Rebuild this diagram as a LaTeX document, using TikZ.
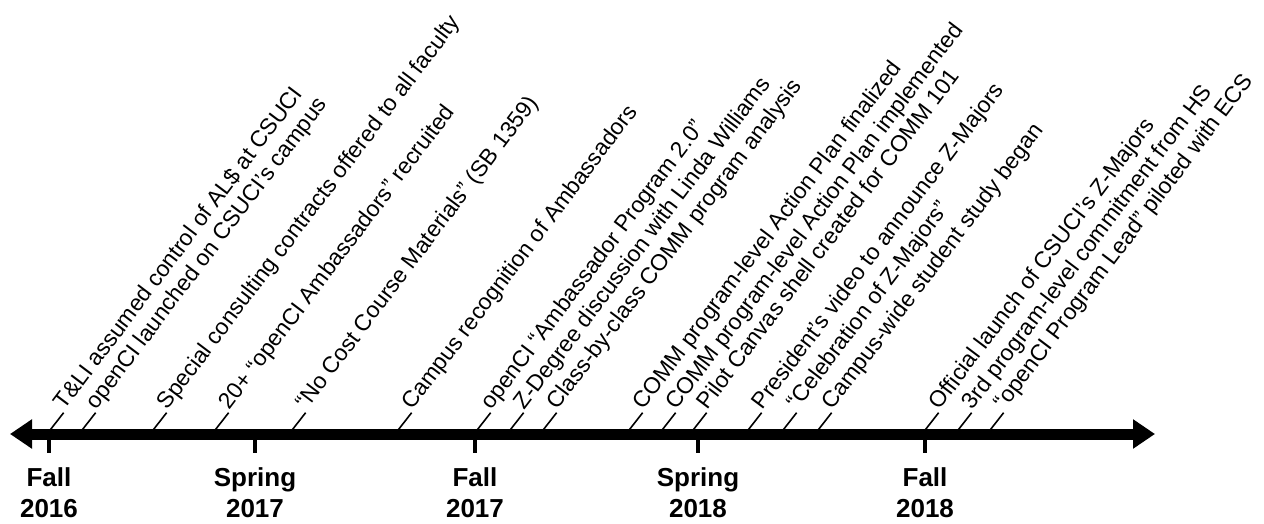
\documentclass[tikz,border=0pt]{standalone}
\usepackage{fontspec}
\setmainfont{Liberation Sans}
\usetikzlibrary{arrows.meta,calc}

\tikzset{
  evline/.style={line width=1.6pt},
  evtext/.style={anchor=base west, rotate=53, inner sep=2pt, font=\fontsize{22.8}{27}\selectfont},
  tickmark/.style={line width=4pt},
  ticklabel/.style={anchor=base, align=center, inner sep=0pt, font=\fontsize{26}{31}\selectfont\bfseries},
}

\begin{document}
\begin{tikzpicture}[x=1pt,y=1pt]
\useasboundingbox (0,0) rectangle (1264,523);

% time axis
\coordinate (L) at (10,89);
\coordinate (R) at (1155,89);
\draw[line width=11pt, {Triangle[length=22pt,width=28pt]}-{Triangle[length=22pt,width=28pt]}] (L) -- (R);

% semesters
\foreach \x/\sem/\yr [count=\i] in {49/Fall/2016, 255/Spring/2017, 475/Fall/2017, 698/Spring/2018, 925/Fall/2018} {
  \coordinate (t\i) at (\x,89);
  \coordinate (tb\i) at (\x,70);
  \draw[tickmark] (t\i) -- (tb\i);
  \node[ticklabel] (sem\i) at (\x,6) {\sem\\\yr};
}

% events
\foreach \x/\txt [count=\i] in {
  47/{T\&LI assumed control of AL\$ at CSUCI},
  79/{openCI launched on CSUCI’s campus},
  150/{Special consulting contracts offered to all faculty},
  212/{20+ “openCI Ambassadors” recruited},
  289/{“No Cost Course Materials” (SB 1359)},
  395/{Campus recognition of Ambassadors},
  474/{openCI “Ambassador Program 2.0”},
  507/{Z-Degree discussion with Linda Williams},
  540/{Class-by-class COMM program analysis},
  626/{COMM program-level Action Plan finalized},
  659/{COMM program-level Action Plan implemented},
  690/{Pilot Canvas shell created for COMM 101},
  745/{President’s video to announce Z-Majors},
  780/{“Celebration of Z-Majors”},
  815/{Campus-wide student study began},
  922/{Official launch of CSUCI’s Z-Majors},
  955/{3rd program-level commitment from HS},
  987/{“openCI Program Lead” piloted with ECS}} {
  \coordinate (p\i) at (\x,89);
  \node[evtext] (ev\i) at ($(p\i)+(52:27)$) {\txt};
  \draw[evline] (p\i) -- (ev\i.base west);
}
\end{tikzpicture}
\end{document}
